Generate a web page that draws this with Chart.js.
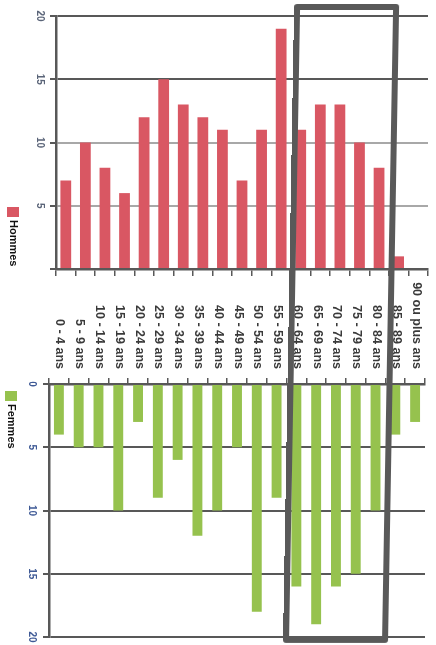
<!DOCTYPE html>
<html>
<head>
<meta charset="utf-8">
<script src="https://cdn.jsdelivr.net/npm/chart.js@4/dist/chart.umd.min.js"></script>
<style>
  html, body { margin: 0; padding: 0; background: #fff; width: 436px; height: 645px; overflow: hidden; }
  #wrap { position: relative; width: 436px; height: 645px; }
  canvas { position: absolute; left: 0; }
  #hommesChart { top: 0; }
  #femmesChart { top: 280px; }
  #frame { position: absolute; border: 6px solid #595959; border-radius: 3px; box-sizing: border-box;
           transform-origin: 50% 100%; transform: skewX(-1deg); }
</style>
</head>
<body>
<div id="wrap">
  <canvas id="hommesChart" width="436" height="290"></canvas>
  <canvas id="femmesChart" width="436" height="365"></canvas>
  <div id="frame"></div>
</div>
<script>
// Age groups (categories)
const ageGroups = [
  '0 - 4 ans', '5 - 9 ans', '10 - 14 ans', '15 - 19 ans', '20 - 24 ans',
  '25 - 29 ans', '30 - 34 ans', '35 - 39 ans', '40 - 44 ans', '45 - 49 ans',
  '50 - 54 ans', '55 - 59 ans', '60 - 64 ans', '65 - 69 ans', '70 - 74 ans',
  '75 - 79 ans', '80 - 84 ans', '85 - 89 ans', '90 ou plus ans'
];
// Series values
const hommes = [7, 10, 8, 6, 12, 15, 13, 12, 11, 7, 11, 19, 11, 13, 13, 10, 8, 1, 0];
const femmes = [4, 5, 5, 10, 3, 9, 6, 12, 10, 5, 18, 9, 16, 19, 16, 15, 10, 4, 3];
// Value axis ticks
const hommesTicks = [5, 10, 15, 20];
const femmesTicks = [0, 5, 10, 15, 20];
// Highlighted age groups (framed)
const highlightFrom = '60 - 64 ans';
const highlightTo = '80 - 84 ans';

const AXIS = '#585858';

// Value labels drawn vertically beside the value axis
const verticalYLabels = {
  id: 'verticalYLabels',
  afterDraw(chart, args, opts) {
    const ctx = chart.ctx, y = chart.scales.y;
    ctx.save();
    ctx.font = opts.font;
    ctx.fillStyle = opts.color;
    ctx.textAlign = 'center';
    ctx.textBaseline = 'middle';
    opts.values.forEach(v => {
      ctx.save();
      ctx.translate(opts.x, y.getPixelForValue(v));
      ctx.rotate(Math.PI / 2);
      ctx.fillText(String(v), 0, 0);
      ctx.restore();
    });
    ctx.restore();
  }
};

// Series key: swatch + name written downwards
const sideLegend = {
  id: 'sideLegend',
  afterDraw(chart, args, opts) {
    const ctx = chart.ctx, ds = chart.data.datasets[0];
    ctx.save();
    ctx.fillStyle = ds.backgroundColor;
    ctx.fillRect(opts.x - 6, opts.y, 12, 10);
    ctx.translate(opts.x, opts.y + 13);
    ctx.rotate(Math.PI / 2);
    ctx.font = opts.font;
    ctx.fillStyle = '#111';
    ctx.textAlign = 'left';
    ctx.textBaseline = 'middle';
    ctx.fillText(ds.label, 0, 0);
    ctx.restore();
  }
};

// Category names written downwards, ending just above the top axis
const categoryLabels = {
  id: 'categoryLabels',
  afterDraw(chart, args, opts) {
    const ctx = chart.ctx, x = chart.scales.x;
    ctx.save();
    ctx.font = opts.font;
    ctx.fillStyle = opts.color;
    ctx.textAlign = 'right';
    ctx.textBaseline = 'middle';
    chart.data.labels.forEach((lab, i) => {
      ctx.save();
      ctx.translate(x.getPixelForValue(i) + 1, opts.y);
      ctx.rotate(Math.PI / 2);
      ctx.fillText(lab, 0, 0);
      ctx.restore();
    });
    ctx.restore();
  }
};

const hommesChart = new Chart(document.getElementById('hommesChart'), {
  type: 'bar',
  data: {
    labels: ageGroups,
    datasets: [{
      label: 'Hommes',
      data: hommes,
      backgroundColor: '#d95763',
      barPercentage: 0.55,
      categoryPercentage: 1
    }]
  },
  options: {
    responsive: false,
    animation: false,
    devicePixelRatio: 1,
    layout: { padding: { top: 16, right: 8, left: 0, bottom: 0 } },
    plugins: {
      legend: { display: false },
      tooltip: { enabled: false },
      verticalYLabels: { values: hommesTicks, x: 40, font: 'bold 10px "Liberation Sans", Arial, sans-serif', color: '#5a6478' },
      sideLegend: { x: 13, y: 207, font: 'bold 11px "Liberation Sans", Arial, sans-serif' }
    },
    scales: {
      x: {
        ticks: { display: false },
        grid: { drawOnChartArea: false, tickLength: 7, color: AXIS, lineWidth: 1.5 },
        border: { color: AXIS, width: 2.5 },
        afterFit(s) { s.height = 21; }
      },
      y: {
        min: 0, max: 20,
        ticks: { display: false, stepSize: 5 },
        grid: {
          tickLength: 6,
          lineWidth: 2,
          color: c => (c.tick && c.tick.value >= 15) ? AXIS : '#a8a8a8',
          tickColor: AXIS
        },
        border: { color: AXIS, width: 2.5 },
        afterFit(s) { s.width = 56; }
      }
    }
  },
  plugins: [verticalYLabels, sideLegend]
});

const femmesChart = new Chart(document.getElementById('femmesChart'), {
  type: 'bar',
  data: {
    labels: ageGroups,
    datasets: [{
      label: 'Femmes',
      data: femmes,
      backgroundColor: '#96c24e',
      barPercentage: 0.5,
      categoryPercentage: 1
    }]
  },
  options: {
    responsive: false,
    animation: false,
    devicePixelRatio: 1,
    layout: { padding: { top: 0, right: 11, left: 0, bottom: 8 } },
    plugins: {
      legend: { display: false },
      tooltip: { enabled: false },
      verticalYLabels: { values: femmesTicks, x: 32, font: 'bold 10px "Liberation Sans", Arial, sans-serif', color: '#3f5a96' },
      sideLegend: { x: 11, y: 111, font: 'bold 11px "Liberation Sans", Arial, sans-serif' },
      categoryLabels: { y: 89, font: 'bold 12.5px "Liberation Sans", Arial, sans-serif', color: '#3a3a3a' }
    },
    scales: {
      x: {
        position: 'top',
        ticks: { display: false },
        grid: { drawOnChartArea: false, tickLength: 6, color: AXIS, lineWidth: 1.5 },
        border: { color: AXIS, width: 2.5 },
        afterFit(s) { s.height = 104; }
      },
      y: {
        reverse: true,
        min: 0, max: 20,
        ticks: { display: false, stepSize: 5 },
        grid: { tickLength: 6, lineWidth: 2, color: AXIS },
        border: { color: AXIS, width: 2.5 },
        afterFit(s) { s.width = 49; }
      }
    }
  },
  plugins: [verticalYLabels, sideLegend, categoryLabels]
});

// Frame around the highlighted age groups, placed from the lower chart's category scale
(function placeFrame() {
  const x = femmesChart.scales.x;
  const i0 = ageGroups.indexOf(highlightFrom), i1 = ageGroups.indexOf(highlightTo);
  const step = x.getPixelForValue(1) - x.getPixelForValue(0);
  const left = x.getPixelForValue(i0) - step / 2 - 3;
  const right = x.getPixelForValue(i1) + step / 2 + 3;
  const f = document.getElementById('frame');
  f.style.left = left + 'px';
  f.style.width = (right - left) + 'px';
  f.style.top = '4px';
  f.style.height = '639px';
})();
</script>
</body>
</html>
